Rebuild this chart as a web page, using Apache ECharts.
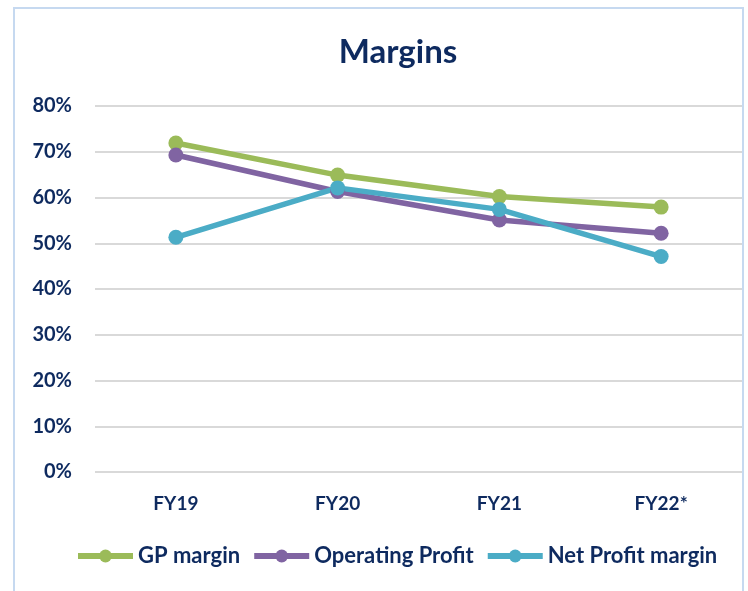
<!DOCTYPE html>
<html>
<head>
<meta charset="utf-8">
<script src="https://cdn.jsdelivr.net/npm/echarts@6/dist/echarts.min.js"></script>
<style>
html, body { margin: 0; padding: 0; background: #fff; }
#main { width: 748px; height: 591px; }
</style>
</head>
<body>
<div id="main"></div>
<script>
var categories = ['FY19', 'FY20', 'FY21', 'FY22*'];
var gpMargin = [71.9, 64.9, 60.2, 57.9];
var operatingProfit = [69.3, 61.3, 55.1, 52.2];
var netProfitMargin = [51.3, 62.1, 57.4, 47.1];
var seriesNames = ['GP margin', 'Operating Profit', 'Net Profit margin'];

var navy = '#0e2a5f';
var fontFam = 'Lato, "Open Sans", sans-serif';

var myChart = echarts.init(document.getElementById('main'));

function lineSeries(name, data, color) {
	return {
		name: name,
		type: 'line',
		data: data,
		symbol: 'circle',
		symbolSize: 15,
		lineStyle: {width: 5.5, color: color},
		itemStyle: {color: color},
		z: 3
	};
}

var option = {
	animation: false,
	graphic: [{
		type: 'rect',
		shape: {x: 14, y: 8, width: 729, height: 600},
		style: {fill: 'none', stroke: '#c6d9f0', lineWidth: 2},
		silent: true
	}],
	title: {
		text: 'Margins',
		left: 393,
		textAlign: 'center',
		top: 31,
		textStyle: {color: navy, fontSize: 33, fontWeight: 'bold', fontFamily: fontFam}
	},
	grid: {left: 95, right: 6, top: 106, bottom: 119},
	legend: {
		data: seriesNames,
		bottom: 19,
		left: 70,
		itemWidth: 55,
		itemHeight: 16,
		itemGap: 11,
		lineStyle: {width: 6},
		textStyle: {color: navy, fontSize: 22, fontWeight: 'bold', fontFamily: fontFam}
	},
	xAxis: {
		type: 'category',
		data: categories,
		axisLine: {show: false},
		axisTick: {show: false},
		axisLabel: {color: navy, fontSize: 19, fontWeight: 'bold', fontFamily: fontFam, margin: 22}
	},
	yAxis: {
		type: 'value',
		min: 0,
		max: 80,
		interval: 10,
		axisLine: {show: false},
		axisTick: {show: false},
		axisLabel: {color: navy, fontSize: 20, fontWeight: 'bold', fontFamily: fontFam, margin: 23, formatter: '{value}%'},
		splitLine: {lineStyle: {color: '#d9d9d9', width: 2}}
	},
	series: [
		lineSeries(seriesNames[0], gpMargin, '#9bbb59'),
		lineSeries(seriesNames[1], operatingProfit, '#8064a2'),
		lineSeries(seriesNames[2], netProfitMargin, '#4bacc6')
	]
};
myChart.setOption(option);
</script>
</body>
</html>
